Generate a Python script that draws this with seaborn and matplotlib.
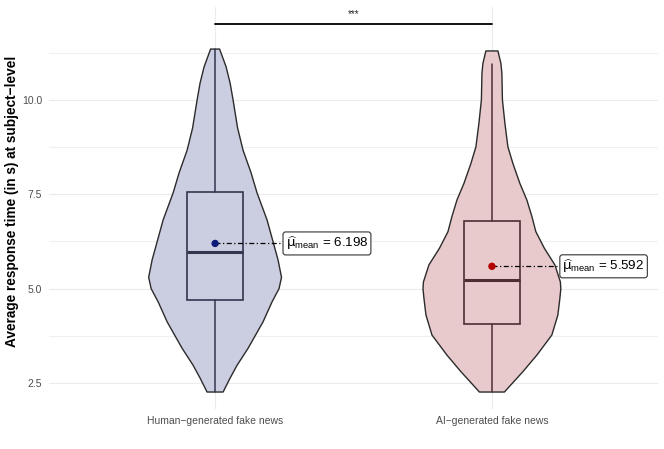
import matplotlib
matplotlib.use("Agg")
import matplotlib.pyplot as plt
import seaborn as sns
import numpy as np

# ---------------- data ----------------
categories = ["Human\u2212generated fake news", "AI\u2212generated fake news"]
means = [6.198, 5.592]
q1 = [4.70, 4.06]
medians = [5.98, 5.23]
q3 = [7.55, 6.80]
whisker_low = [2.26, 2.26]
whisker_high = [11.35, 10.95]

# violin outlines: response time level and relative density
human_violin_y = [2.26, 2.63, 2.97, 3.42, 4.12, 4.65, 5.00, 5.30, 5.76, 6.24, 6.82,
                  7.54, 8.07, 8.67, 9.26, 10.00, 10.45, 10.88, 11.35]
human_violin_density = [0.116, 0.217, 0.318, 0.477, 0.693, 0.823, 0.924, 0.960, 0.910,
                        0.838, 0.751, 0.606, 0.520, 0.404, 0.325, 0.260, 0.217, 0.159, 0.065]
ai_violin_y = [2.26, 2.45, 2.80, 3.24, 3.77, 4.30, 4.74, 5.00, 5.18, 5.63, 6.07, 6.51,
               6.91, 7.35, 7.79, 8.32, 8.76, 9.38, 10.00, 10.71, 10.97, 11.30]
ai_violin_density = [0.181, 0.274, 0.448, 0.650, 0.866, 0.953, 0.982, 0.996, 0.989, 0.910,
                     0.758, 0.635, 0.578, 0.505, 0.404, 0.303, 0.231, 0.188, 0.152, 0.144,
                     0.130, 0.087]

y_ticks = [2.5, 5.0, 7.5, 10.0]
y_minor_ticks = [3.75, 6.25, 8.75, 11.25]
signif_label = "***"
signif_level = 12.01
y_label = "Average response time (in s) at subject\u2212level"

# ---------------- style ----------------
sns.set_theme(style="whitegrid")
plt.rcParams['font.family'] = ['Liberation Sans', 'DejaVu Sans']
plt.rcParams['mathtext.fontset'] = 'custom'
plt.rcParams['mathtext.rm'] = 'Liberation Sans'
plt.rcParams['mathtext.it'] = 'DejaVu Sans'
plt.rcParams['mathtext.fallback'] = 'stixsans'

violin_fill = ['#CBCDE0', '#E9CACC']
box_edge = ['#33354F', '#4E2E33']
point_col = ['#0D1B7A', '#B30000']

fig = plt.figure(figsize=(6.64, 4.49), dpi=100)
ax = fig.add_axes([49/664, 1-409/449, (658-49)/664, (409-7)/449])

# violins
profiles = [(human_violin_y, human_violin_density), (ai_violin_y, ai_violin_density)]
for i, (yy, dd) in enumerate(profiles):
    yy = np.asarray(yy); dd = np.asarray(dd) * 0.25
    xs = np.concatenate([i - dd, (i + dd)[::-1]])
    ys = np.concatenate([yy, yy[::-1]])
    ax.fill(xs, ys, facecolor=violin_fill[i], edgecolor='#2b2b2b', lw=1.0, zorder=2,
            joinstyle='round')

# boxplots
for i in range(2):
    stats = [dict(med=medians[i], q1=q1[i], q3=q3[i], whislo=whisker_low[i],
                  whishi=whisker_high[i], fliers=[])]
    ax.bxp(stats, positions=[i], widths=0.2, showcaps=False, patch_artist=True,
           boxprops=dict(facecolor='none', edgecolor=box_edge[i], lw=1.2),
           medianprops=dict(color=box_edge[i], lw=2.2),
           whiskerprops=dict(color=box_edge[i], lw=1.1), manage_ticks=False)

# mean points
sns.scatterplot(x=[0, 1], y=means, hue=categories, palette=point_col, s=28,
                edgecolor='none', legend=False, ax=ax, zorder=5)

# mean labels
for i in range(2):
    ax.plot([i, i + 0.245], [means[i], means[i]], color='black', lw=0.9,
            ls=(0, (4, 2, 1, 2)), zorder=4)
    ax.text(i + 0.255, means[i], r"$\widehat{\mu}_{\mathrm{mean}}$ = " + f"{means[i]:.3f}",
            ha='left', va='center', fontsize=9.6, color='black', zorder=6,
            bbox=dict(boxstyle='round,pad=0.2,rounding_size=0.2', fc='white',
                      ec='#333333', lw=0.8))

# significance bar
ax.plot([0, 1], [signif_level, signif_level], color='black', lw=1.3, zorder=4)
ax.text(0.5, signif_level + 0.28, signif_label, ha='center', va='center', fontsize=7)

# axes
ax.set_xlim(-0.6, 1.6)
ax.set_ylim(1.81, 12.465)
ax.set_xticks([0, 1])
ax.set_xticklabels(categories)
ax.set_yticks(y_ticks)
ax.set_yticklabels([f"{v:.1f}" for v in y_ticks])
ax.set_yticks(y_minor_ticks, minor=True)
ax.grid(True, which='major', color='#EBEBEB', lw=0.8)
ax.grid(True, which='minor', axis='y', color='#F0F0F0', lw=0.8)
ax.grid(False, which='minor', axis='x')
ax.tick_params(axis='both', which='major', length=3, width=0.6, color='#555555',
               labelcolor='#4D4D4D', labelsize=7.5, pad=2)
ax.tick_params(axis='y', which='minor', length=0)
for s in ax.spines.values():
    s.set_visible(False)
ax.set_facecolor('white')
ax.set_axisbelow(True)
ax.set_xlabel('')
ax.set_ylabel('')
fig.text(12/664, 1 - 201/449, y_label, rotation=90, ha='center', va='center',
         fontsize=9.8, fontweight='bold', color='black')

fig.savefig('out.png', dpi=100, facecolor='white')
